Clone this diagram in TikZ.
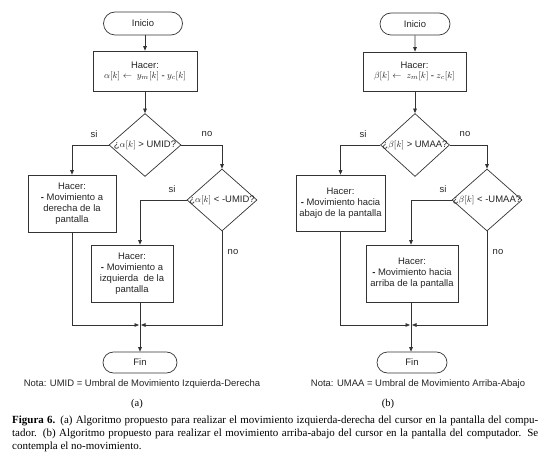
\documentclass[tikz,border=0pt]{standalone}
\usepackage{fontspec}
\setmainfont{Liberation Serif}
\setsansfont{Liberation Sans}
\usetikzlibrary{shapes.geometric,shapes.misc,arrows.meta}
\begin{document}
\begin{tikzpicture}[x=1bp,y=-1bp,
  every node/.style={font=\sffamily\fontsize{9.5}{11}\selectfont, text=black!85},
  line/.style={draw=black!80, line width=0.7bp},
  arr/.style={line, -{Triangle[length=4.5bp,width=3.6bp]}},
  term/.style={rounded rectangle, draw=black!80, line width=0.7bp, inner sep=0pt},
  proc/.style={rectangle, draw=black!80, line width=0.7bp, inner sep=1pt, align=center},
  dec/.style={diamond, draw=black!80, line width=0.7bp, inner sep=0pt, minimum width=72bp, minimum height=63bp},
  lbl/.style={inner sep=0pt},
]
\fill[white] (0,0) rectangle (550,464);

% ---------- (a) ----------
\node[term, minimum width=79bp, minimum height=23bp] (ini1) at (143,23.5) {Inicio};
\node[proc, minimum width=104bp, minimum height=40bp] (hac1) at (145,71) {Hacer:\\[-1pt] \rmfamily$\alpha[k]\leftarrow\ y_{m}[k]$ \textbf{-} $y_{c}[k]$};
\node[dec] (d1) at (145,145) {};
\node[lbl] (d1t) at (d1.center) {¿$\alpha[k]$ > UMID?};
\node[lbl] (si1) at (94,134) {si};
\node[lbl] (no1) at (207,134) {no};
\node[proc, minimum width=88bp, minimum height=57bp] (bl1) at (72,203.5) {Hacer:\\\textbf{-} Movimiento a\\derecha de la\\pantalla};
\node[dec, minimum width=70bp, minimum height=62bp] (d2) at (222,200) {};
\node[lbl] (d2t) at (d2.center) {¿$\alpha[k]$ < -UMID?};
\node[lbl] (si2) at (172,189) {si};
\node[lbl] (no2) at (233,252) {no};
\node[proc, minimum width=82bp, minimum height=57bp] (b3) at (132,273.5) {Hacer:\\\textbf{-} Movimiento a\\izquierda\ \ de la\\pantalla};
\coordinate (m1) at (140,325);
\node[term, minimum width=74bp, minimum height=21bp] (fin1) at (140,362.5) {Fin};
\node[lbl] (nota1) at (142,384) {Nota: UMID = Umbral de Movimiento Izquierda-Derecha};
\node[lbl, font=\rmfamily\fontsize{10.5}{12}\selectfont, text=black] (la) at (137,404) {(a)};

\draw[arr] (hac1.north |- ini1.south) -- (hac1.north);
\draw[arr] (hac1) -- (d1.north);
\draw[arr] (d1.west) -| (bl1.north);
\draw[arr] (d1.east) -| (d2.north);
\draw[arr] (d2.west) -| (b3.north -| m1);
\draw[arr] (bl1.south) |- ([xshift=-1bp]m1);
\draw[arr] (d2.south) |- ([xshift=1bp]m1);
\draw[line] (b3.south -| m1) -- (m1);
\draw[arr] (m1) -- (fin1.north);

% ---------- (b) ----------
\node[term, minimum width=70bp, minimum height=22bp] (ini2) at (415,24) {Inicio};
\node[proc, minimum width=103bp, minimum height=39bp] (hac2) at (414.5,71.5) {Hacer:\\[-1pt] \rmfamily$\beta[k]\leftarrow\ z_{m}[k]$ \textbf{-} $z_{c}[k]$};
\node[dec, minimum width=69bp] (d3) at (415,145) {};
\node[lbl] (d3t) at (d3.center) {¿$\beta[k]$ > UMAA?};
\node[lbl] (si3) at (363,134) {si};
\node[lbl] (no3) at (465,134) {no};
\node[proc, minimum width=89bp, minimum height=56bp] (br1) at (340.5,203) {Hacer:\\\textbf{-} Movimiento hacia\\abajo de la pantalla};
\node[dec, minimum width=70bp, minimum height=62bp] (d4) at (487,200) {};
\node[lbl] (d4t) at (d4.center) {¿$\beta[k]$ < -UMAA?};
\node[lbl] (si4) at (443,189) {si};
\node[lbl] (no4) at (498,252) {no};
\node[proc, minimum width=92bp, minimum height=57bp] (b4) at (412,273.5) {Hacer:\\\textbf{-} Movimiento hacia\\arriba de la pantalla};
\coordinate (m2) at (411,325);
\node[term, minimum width=70bp, minimum height=21bp] (fin2) at (412,362.5) {Fin};
\node[lbl] (nota2) at (418,384) {Nota: UMAA = Umbral de Movimiento Arriba-Abajo};
\node[lbl, font=\rmfamily\fontsize{10.5}{12}\selectfont, text=black] (lb) at (388,404) {(b)};

\draw[arr] (ini2) -- (hac2.north -| ini2);
\draw[arr] (hac2.south -| ini2) -- (d3.north);
\draw[arr] (d3.west) -| (br1.north);
\draw[arr] (d3.east) -| (d4.north);
\draw[arr] (d4.west) -| (b4.north -| m2);
\draw[arr] (br1.south) |- ([xshift=-1bp]m2);
\draw[arr] (d4.south) |- ([xshift=1bp]m2);
\draw[line] (b4.south -| m2) -- (m2);
\draw[arr] (m2) -- (fin2.north -| m2);

% ---------- caption ----------
\node[anchor=north west, inner sep=0pt, text width=526bp, align=justify, text=black,
      font=\rmfamily\fontsize{11}{13}\selectfont] (cap) at (12,416)
 {\textbf{Figura 6.} (a) Algoritmo propuesto para realizar el movimiento izquierda-derecha del cursor en la pantalla del compu-\linebreak tador. (b) Algoritmo propuesto para realizar el movimiento arriba-abajo del cursor en la pantalla del computador. Se\linebreak contempla el no-movimiento.};
\end{tikzpicture}
\end{document}
